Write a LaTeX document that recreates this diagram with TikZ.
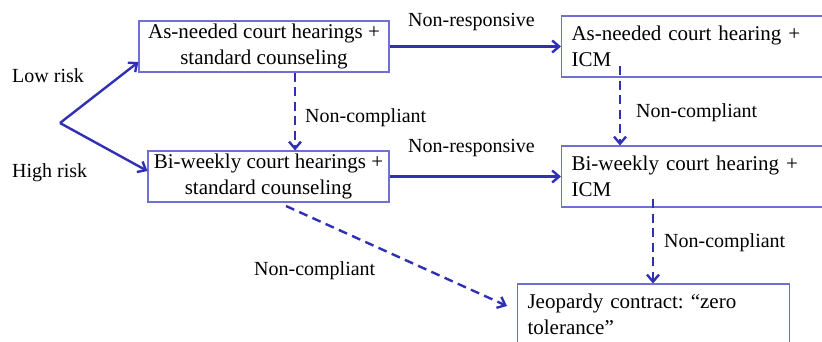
\documentclass[tikz,border=0pt]{standalone}
\usepackage{fontspec}
\setmainfont{Liberation Serif}
\frenchspacing
\usetikzlibrary{arrows.meta}
\definecolor{arrowblue}{HTML}{3030B4}
\definecolor{boxblue}{HTML}{7070D4}
\begin{document}
\begin{tikzpicture}[x=1pt,y=-1pt,
  boxc/.style={draw=boxblue,line width=1.1pt,inner sep=0pt,align=center,
    font=\fontsize{21}{25.5}\selectfont},
  boxl/.style={draw=boxblue,line width=1.1pt,inner ysep=0pt,inner xsep=10pt,align=left,
    font=\fontsize{21}{25.5}\selectfont},
  lbl/.style={inner sep=0pt,font=\fontsize{20}{24}\selectfont},
  conn/.style={draw=arrowblue,line width=2.4pt,-{Straight Barb[length=7pt,width=12pt,line width=2.4pt]}},
  dconn/.style={conn,dash pattern=on 9pt off 5.5pt}]
\useasboundingbox (0,0) rectangle (822,341);
\node[boxc,minimum width=250pt,minimum height=51pt] (A) at (264,46.5) {As-needed court hearings +\\standard counseling};
\node[boxc,minimum width=241pt,minimum height=51pt] (B) at (268.5,176.5) {Bi-weekly court hearings +\\standard counseling};
\node[boxl,minimum width=279pt,minimum height=61pt,text width=259pt,anchor=west] (C) at (561,46.5) {As-needed court hearing +\\ICM};
\node[boxl,minimum width=279pt,minimum height=61pt,text width=259pt,anchor=west] (D) at (561,176.5) {Bi-weekly court hearing +\\ICM};
\node[boxl,minimum width=272pt,minimum height=61pt,text width=252pt,anchor=west] (E) at (517,314.5) {Jeopardy contract: ``zero\\tolerance''};
\coordinate (apex) at (60,123);
\coordinate (c1) at (620,66);
\coordinate (d1) at (653,199);
\coordinate (b1) at (286,206);
\draw[conn] (apex) -- (A.west |- 0,62);
\draw[conn] (apex) -- (B.west |- 0,171);
\draw[conn] (A) -- (C);
\draw[conn] (B) -- (D);
\draw[dconn] (A.south -| 295,0) -- (B.north -| 295,0);
\draw[dconn] (c1) -- (D.north -| c1);
\draw[dconn] (d1) -- (E.north -| d1);
\draw[dconn] (b1) -- (507,306);
\node[lbl,anchor=base west] (lr) at (12,82) {Low risk};
\node[lbl,anchor=base west] (hr) at (12,177) {High risk};
\node[lbl,anchor=base west] (nr1) at (408,26) {Non-responsive};
\node[lbl,anchor=base west] (nr2) at (408,152) {Non-responsive};
\node[lbl,anchor=base west] (nc1) at (305,122) {Non-compliant};
\node[lbl,anchor=base west] (nc2) at (636,117) {Non-compliant};
\node[lbl,anchor=base west] (nc3) at (664,247) {Non-compliant};
\node[lbl,anchor=base west] (nc4) at (254,275) {Non-compliant};
\end{tikzpicture}
\end{document}
